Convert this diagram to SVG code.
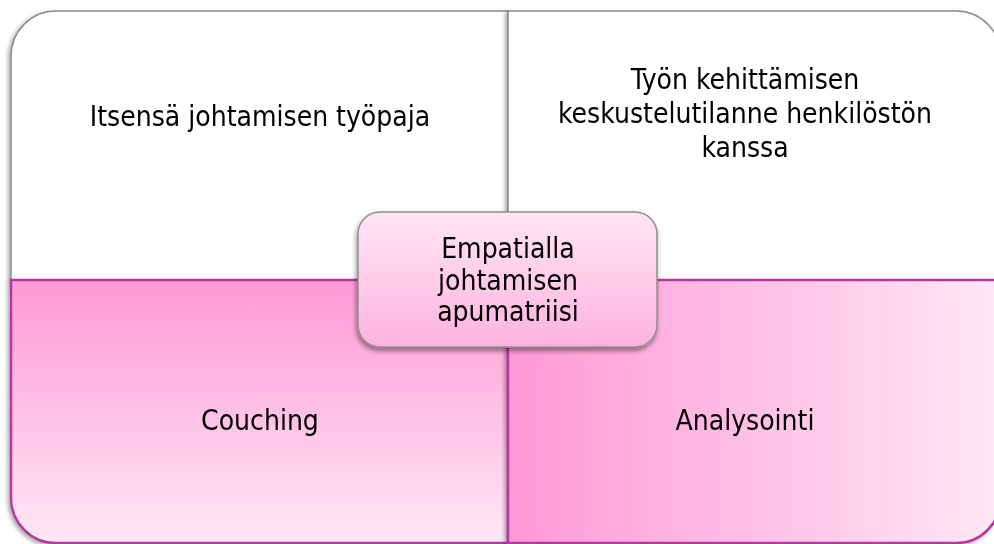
<svg xmlns="http://www.w3.org/2000/svg" width="994" height="544" viewBox="0 0 994 544">
  <defs>
    <linearGradient id="gV" x1="0" y1="0" x2="0" y2="1">
      <stop offset="0" stop-color="#ff99d6"/>
      <stop offset="1" stop-color="#ffe8f5"/>
    </linearGradient>
    <linearGradient id="gH" x1="0" y1="0" x2="1" y2="0">
      <stop offset="0" stop-color="#ff99d6"/>
      <stop offset="1" stop-color="#ffe8f5"/>
    </linearGradient>
    <linearGradient id="gC" x1="0" y1="0" x2="0" y2="1">
      <stop offset="0" stop-color="#ffe6f3"/>
      <stop offset="1" stop-color="#ffb3df"/>
    </linearGradient>
    <filter id="sh" x="-10%" y="-10%" width="120%" height="120%">
      <feDropShadow dx="-2" dy="2" stdDeviation="2" flood-color="#000" flood-opacity="0.35"/>
    </filter>
    <filter id="shc" x="-10%" y="-10%" width="120%" height="130%">
      <feDropShadow dx="-1" dy="3" stdDeviation="2.5" flood-color="#000" flood-opacity="0.45"/>
    </filter>
  </defs>
  <style>
    .t { font-family: "DejaVu Sans Condensed", "DejaVu Sans", Verdana, sans-serif; font-stretch: condensed; font-size: 28px; fill: #000; text-anchor: middle; }
    .top { fill: #ffffff; stroke: #8a8a8a; stroke-width: 1.5; }
    .bot { stroke: #b5399e; stroke-width: 2.5; }
  </style>
  <g id="connectors"></g>
  <g id="q-top-left" filter="url(#sh)">
    <path class="top" d="M11,280 V56 A45,45 0 0 1 56,11 H508 V280 Z"/>
    <text class="t" x="260" y="126">Itsensä johtamisen työpaja</text>
  </g>
  <g id="q-top-right" filter="url(#sh)">
    <path class="top" d="M508,11 H956 A45,45 0 0 1 1001,56 V280 H508 Z"/>
    <text class="t" x="745" y="89">Työn kehittämisen</text>
    <text class="t" x="745" y="123">keskustelutilanne henkilöstön</text>
    <text class="t" x="745" y="157">kanssa</text>
  </g>
  <g id="q-bottom-left" filter="url(#sh)">
    <path class="bot" fill="url(#gV)" d="M11,280 H508 V543 H56 A45,45 0 0 1 11,498 Z"/>
    <text class="t" x="260" y="430">Couching</text>
  </g>
  <g id="q-bottom-right" filter="url(#sh)">
    <path class="bot" fill="url(#gH)" d="M508,280 H1001 V498 A45,45 0 0 1 956,543 H508 Z"/>
    <text class="t" x="745" y="430">Analysointi</text>
  </g>
  <g id="center" filter="url(#shc)">
    <rect x="358" y="212" width="299" height="135" rx="22" ry="22" fill="url(#gC)" stroke="#8f8f8f" stroke-width="1.5"/>
    <text class="t" x="508" y="258">Empatialla</text>
    <text class="t" x="508" y="290">johtamisen</text>
    <text class="t" x="508" y="321">apumatriisi</text>
  </g>
</svg>
